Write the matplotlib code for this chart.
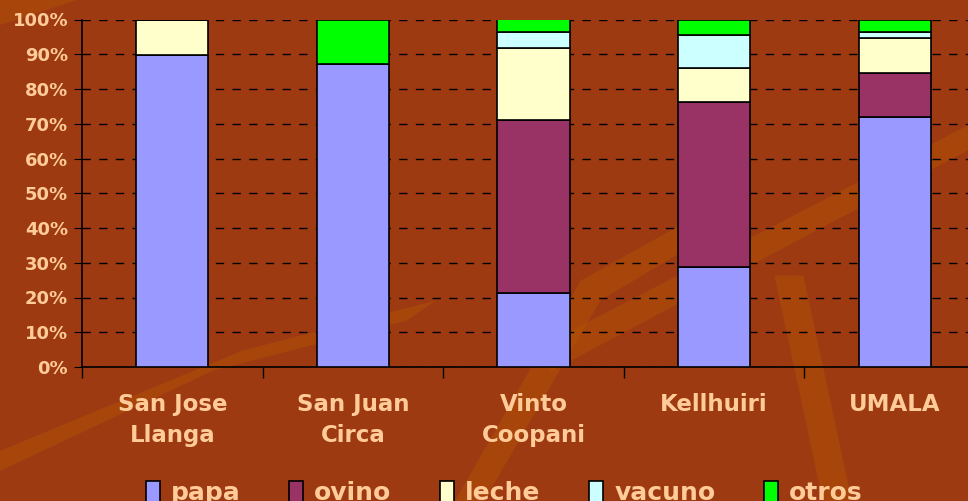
import numpy as np
import matplotlib
matplotlib.use("Agg")
import matplotlib.pyplot as plt
from matplotlib.patches import Polygon

# Data (percent of total)
communities = ["San Jose\nLlanga", "San Juan\nCirca", "Vinto\nCoopani", "Kellhuiri", "UMALA"]
papa = [89.7, 87.3, 21.2, 28.9, 71.8]
ovino = [0.0, 0.0, 50.0, 47.5, 12.9]
leche = [10.3, 0.0, 20.7, 9.5, 10.1]
vacuno = [0.0, 0.0, 4.4, 9.6, 1.7]
otros = [0.0, 12.7, 3.7, 4.5, 3.5]

series = [("papa", papa, "#9999ff"),
          ("ovino", ovino, "#993366"),
          ("leche", leche, "#ffffcc"),
          ("vacuno", vacuno, "#ccffff"),
          ("otros", otros, "#00ff00")]

bg = "#9e3a12"
txt = "#ffcc99"

fig = plt.figure(figsize=(9.68, 5.01), dpi=100)
fig.patch.set_facecolor(bg)

# a few lighter streaks for the textured background
streaks = [
    [(0.0, 0.10), (0.25, 0.30), (0.45, 0.40), (0.42, 0.36), (0.22, 0.26), (0.0, 0.06)],
    [(0.50, 0.0), (0.62, 0.40), (0.75, 0.55), (0.73, 0.58), (0.60, 0.44), (0.47, 0.0)],
    [(0.55, 0.30), (1.0, 0.75), (1.0, 0.70), (0.57, 0.26)],
    [(0.85, 0.0), (0.80, 0.45), (0.83, 0.45), (0.88, 0.0)],
    [(0.0, 0.95), (0.08, 1.0), (0.0, 1.0)],
]
for pts in streaks:
    fig.patches.append(Polygon(pts, closed=True, transform=fig.transFigure,
                               facecolor="#b85a00", edgecolor="none", alpha=0.35, zorder=-5))

ax = fig.add_axes([82 / 968, 1 - 367 / 501, (985 - 82) / 968, (367 - 19.5) / 501])
ax.set_facecolor("none")

x = np.arange(len(communities))
bottom = np.zeros(len(communities))
for name, vals, col in series:
    ax.bar(x, vals, width=0.4, bottom=bottom, color=col, edgecolor="black",
           linewidth=1.2, label=name, zorder=3)
    bottom += np.array(vals)

ax.set_xlim(-0.5, len(communities) - 0.5)
ax.set_ylim(0, 100)
ax.set_yticks(np.arange(0, 101, 10))
ax.set_yticklabels([f"{v}%" for v in range(0, 101, 10)])
ax.yaxis.grid(True, color="black", linestyle=(0, (6, 6)), linewidth=1)
ax.set_axisbelow(True)

ax.set_xticks(x)
ax.set_xticklabels(communities, linespacing=1.4)
ax.set_xticks(np.arange(-0.5, len(communities), 1), minor=True)
ax.tick_params(axis="x", which="major", length=0, pad=19, labelsize=16.5, labelcolor=txt)
ax.tick_params(axis="x", which="minor", length=8, color="black", width=1)
ax.tick_params(axis="y", length=6, color="black", labelsize=13, labelcolor=txt, pad=4)
for lbl in ax.get_xticklabels() + ax.get_yticklabels():
    lbl.set_fontweight("bold")

for s in ["top", "right"]:
    ax.spines[s].set_visible(False)
for s in ["left", "bottom"]:
    ax.spines[s].set_color("black")
    ax.spines[s].set_linewidth(1.2)

leg = fig.legend(loc="center", bbox_to_anchor=(0.521, 0.016), ncol=5, frameon=False,
                 fontsize=18, handlelength=0.55, handleheight=1.0, columnspacing=1.95,
                 handletextpad=0.45)
for t in leg.get_texts():
    t.set_color(txt)
    t.set_fontweight("bold")

fig.savefig("out.png", dpi=100, facecolor=bg)
